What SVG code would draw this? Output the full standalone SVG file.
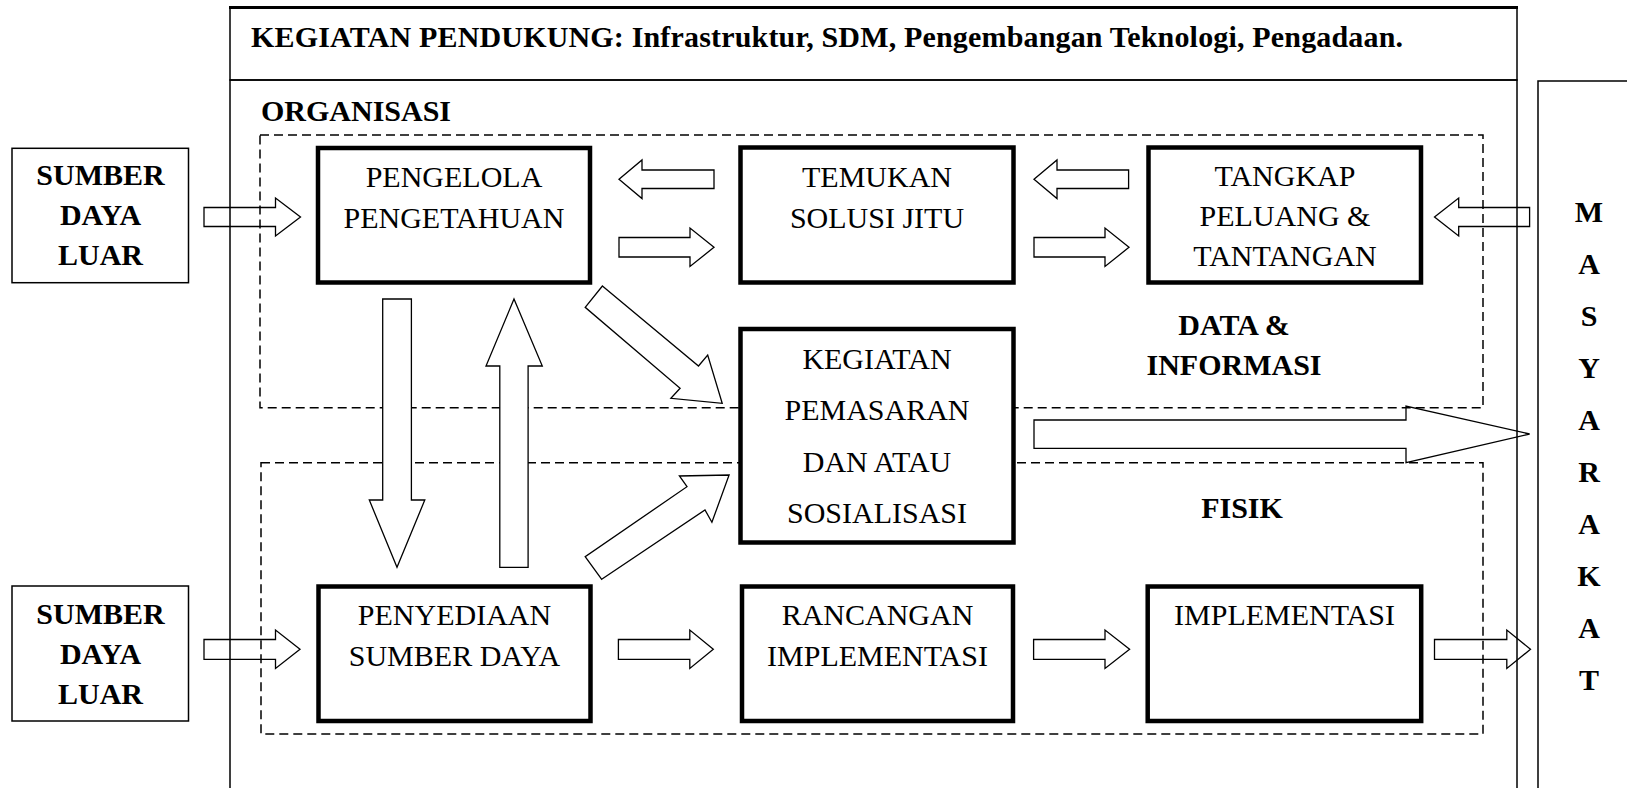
<svg xmlns="http://www.w3.org/2000/svg" width="1627" height="788" viewBox="0 0 1627 788">
  <style>
    .thin { fill: #fff; stroke: #000; stroke-width: 1.5; }
    .frame { fill: none; stroke: #000; stroke-width: 1.5; }
    .node { fill: #fff; stroke: #000; stroke-width: 4.5; }
    .dash { fill: none; stroke: #000; stroke-width: 1.5; stroke-dasharray: 9 5; }
    .solid { fill: #fff; stroke: #000; stroke-width: 1.3; stroke-linejoin: miter; }
    .hollow { fill: none; stroke: #000; stroke-width: 1.3; stroke-linejoin: miter; }
    .t { font-family: "Liberation Serif", "Times New Roman", serif; font-size: 30px; fill: #000; text-anchor: middle; }
    .b { font-weight: bold; }
    .l { text-anchor: start; }
  </style>

  <rect width="1627" height="788" fill="#fff"/>

  <!-- outer frame: supporting activities header + organisation body -->
  <g id="frame">
    <rect class="frame" x="230" y="80" width="1287" height="730"/>
    <rect class="frame" x="230" y="7.5" width="1287" height="72.5"/>
    <line x1="229" y1="7.5" x2="1518" y2="7.5" stroke="#000" stroke-width="3"/>
    <text class="t b l" x="251" y="47" textLength="1152" lengthAdjust="spacing">KEGIATAN PENDUKUNG: Infrastruktur, SDM, Pengembangan Teknologi, Pengadaan.</text>
    <text class="t b l" x="261" y="121">ORGANISASI</text>
  </g>

  <!-- dashed zones -->
  <g id="zone-data">
    <rect class="dash" x="260" y="135" width="1223" height="272.7"/>
    <text class="t b" x="1234" y="335">DATA &amp;</text>
    <text class="t b" x="1234" y="375">INFORMASI</text>
  </g>
  <g id="zone-fisik">
    <rect class="dash" x="261" y="462.7" width="1222" height="271.3"/>
    <text class="t b" x="1242" y="518">FISIK</text>
  </g>

  <!-- society column -->
  <g id="masyarakat">
    <rect class="frame" x="1538" y="81" width="130" height="730"/>
    <g class="t b">
      <text x="1589" y="222">M</text>
      <text x="1589" y="274">A</text>
      <text x="1589" y="326">S</text>
      <text x="1589" y="378">Y</text>
      <text x="1589" y="430">A</text>
      <text x="1589" y="482">R</text>
      <text x="1589" y="534">A</text>
      <text x="1589" y="586">K</text>
      <text x="1589" y="638">A</text>
      <text x="1589" y="690">T</text>
    </g>
  </g>

  <!-- external resources -->
  <g id="sumber-luar-1">
    <rect class="thin" x="12" y="148.3" width="176.5" height="134.4"/>
    <text class="t b" x="100.5" y="185">SUMBER</text>
    <text class="t b" x="100.5" y="225">DAYA</text>
    <text class="t b" x="100.5" y="265">LUAR</text>
  </g>
  <g id="sumber-luar-2">
    <rect class="thin" x="12" y="586" width="176.5" height="135"/>
    <text class="t b" x="100.5" y="624">SUMBER</text>
    <text class="t b" x="100.5" y="664">DAYA</text>
    <text class="t b" x="100.5" y="704">LUAR</text>
  </g>

  <!-- process nodes -->
  <g id="pengelola">
    <rect class="node" x="318" y="148" width="272" height="134.5"/>
    <text class="t" x="454" y="187">PENGELOLA</text>
    <text class="t" x="454" y="228">PENGETAHUAN</text>
  </g>
  <g id="temukan">
    <rect class="node" x="740.5" y="147.5" width="273" height="135"/>
    <text class="t" x="877" y="187">TEMUKAN</text>
    <text class="t" x="877" y="228">SOLUSI JITU</text>
  </g>
  <g id="tangkap">
    <rect class="node" x="1148.5" y="147.5" width="272.5" height="135"/>
    <text class="t" x="1285" y="186">TANGKAP</text>
    <text class="t" x="1285" y="226">PELUANG &amp;</text>
    <text class="t" x="1285" y="266">TANTANGAN</text>
  </g>
  <g id="kegiatan">
    <rect class="node" x="740.5" y="329" width="273" height="213.5"/>
    <text class="t" x="877" y="368.5">KEGIATAN</text>
    <text class="t" x="877" y="419.5">PEMASARAN</text>
    <text class="t" x="877" y="471.5">DAN ATAU</text>
    <text class="t" x="877" y="523">SOSIALISASI</text>
  </g>
  <g id="penyediaan">
    <rect class="node" x="318.5" y="586.5" width="272" height="134.5"/>
    <text class="t" x="454.5" y="625">PENYEDIAAN</text>
    <text class="t" x="454.5" y="666">SUMBER DAYA</text>
  </g>
  <g id="rancangan">
    <rect class="node" x="742" y="586.5" width="271" height="134.5"/>
    <text class="t" x="877.5" y="625">RANCANGAN</text>
    <text class="t" x="877.5" y="666">IMPLEMENTASI</text>
  </g>
  <g id="implementasi">
    <rect class="node" x="1147.7" y="586.5" width="273.5" height="134.5"/>
    <text class="t" x="1284.5" y="625">IMPLEMENTASI</text>
  </g>

  <!-- block arrows -->
  <g id="connectors">
    <!-- top row -->
    <polygon class="hollow" points="204,207.5 275.5,207.5 275.5,198 300.5,217 275.5,236 275.5,226.5 204,226.5"/>
    <polygon class="hollow" points="714,170 642,170 642,160 619,179.2 642,198.5 642,188.5 714,188.5"/>
    <polygon class="hollow" points="619,237.5 690,237.5 690,228 714,247.3 690,266.5 690,257 619,257"/>
    <polygon class="hollow" points="1128.6,170 1057,170 1057,160 1034,179.2 1057,198.5 1057,188.5 1128.6,188.5"/>
    <polygon class="hollow" points="1034,237.5 1105,237.5 1105,228 1129,247.3 1105,266.5 1105,257 1034,257"/>
    <polygon class="hollow" points="1529.6,207.5 1458.7,207.5 1458.7,198 1434.5,217 1458.7,236 1458.7,226.5 1529.6,226.5"/>
    <!-- bottom row -->
    <polygon class="hollow" points="204,639.5 275.5,639.5 275.5,630 300,649.3 275.5,668.5 275.5,659.3 204,659.3"/>
    <polygon class="hollow" points="618.4,639.5 689.8,639.5 689.8,630 713.3,649.3 689.8,668.5 689.8,659.3 618.4,659.3"/>
    <polygon class="hollow" points="1033.6,639.5 1105,639.5 1105,630 1129.6,649.3 1105,668.5 1105,659.3 1033.6,659.3"/>
    <polygon class="hollow" points="1434.5,639.5 1506.8,639.5 1506.8,630 1530.5,649.3 1506.8,668.5 1506.8,659.3 1434.5,659.3"/>
    <!-- marketing to society -->
    <polygon class="hollow" points="1034,420 1406,420 1406,406 1529.6,434 1406,462.7 1406,448.3 1034,448.3"/>
    <!-- vertical pair -->
    <polygon class="solid" points="382.7,299 411.4,299 411.4,500 424.8,500 397,567.3 369.3,500 382.7,500"/>
    <polygon class="solid" points="514,299 542.3,366 528.1,366 528.1,567.3 499.8,567.3 499.8,366 486,366"/>
    <!-- diagonals into marketing -->
    <polygon class="solid" points="602.4,286 698.5,366 707.7,355 722.2,403.3 670.9,398.3 680.1,388.3 585.2,307.3"/>
    <polygon class="solid" points="601.7,579.3 705,510 711.9,522.3 729.1,475 679.4,476 687,486.7 585.2,556.7"/>
  </g>
</svg>
